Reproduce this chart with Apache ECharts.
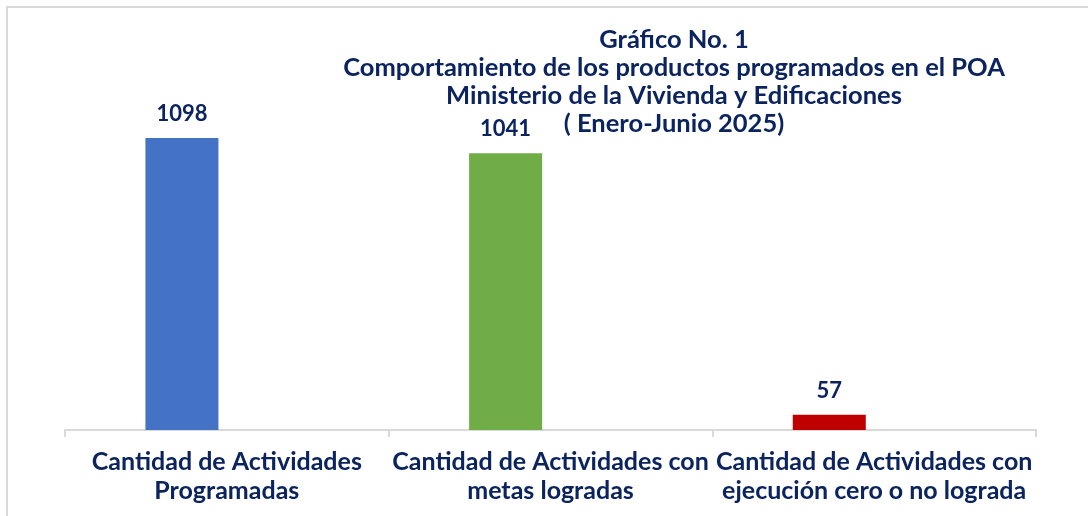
<!DOCTYPE html>
<html>
<head>
<meta charset="utf-8">
<script src="https://cdn.jsdelivr.net/npm/echarts@6/dist/echarts.min.js"></script>
<style>
  html, body { margin: 0; padding: 0; background: #fff; }
  #frame { position: absolute; left: 6px; top: 6px; width: 1100px; height: 530px; border: 2px solid #d9d9d9; }
  #main { position: absolute; left: 0; top: 0; width: 1088px; height: 516px; }
</style>
</head>
<body>
<div id="frame"></div>
<div id="main"></div>
<script>
// categories and values
const categorias = [
  'Cantidad de Actividades\nProgramadas',
  'Cantidad de Actividades con\nmetas logradas',
  'Cantidad de Actividades con\nejecución cero o no lograda'
];
const valores = [1098, 1041, 57];
const colores = ['#4472C4', '#70AD47', '#C00000'];
// the original sheet keeps an empty second series, which pushes bars left
const vacio = ['-', '-', '-'];

const navy = '#0B2460';
const fuente = 'Lato, "DejaVu Sans", sans-serif';

let myChart = echarts.init(document.getElementById('main'));
myChart.setOption({
  animation: false,
  title: {
    text: 'Gráfico No. 1\nComportamiento de los productos programados en el POA\nMinisterio de la Vivienda y Edificaciones\n( Enero-Junio 2025)',
    left: 669,
    top: 21,
    textAlign: 'center',
    textStyle: {
      color: navy,
      fontFamily: fuente,
      fontWeight: 'bold',
      fontSize: 25.5,
      lineHeight: 28
    }
  },
  grid: {
    left: 65,
    right: 52,
    top: 111,
    bottom: 86
  },
  xAxis: {
    type: 'category',
    data: categorias,
    axisLine: { lineStyle: { color: '#d9d9d9', width: 2 } },
    axisTick: { show: true, length: 7, lineStyle: { color: '#d9d9d9', width: 2 } },
    axisLabel: {
      interval: 0,
      margin: 17,
      color: navy,
      fontFamily: fuente,
      fontWeight: 'bold',
      fontSize: 25,
      lineHeight: 29,
      align: 'center'
    }
  },
  yAxis: {
    type: 'value',
    min: 0,
    max: 1200,
    show: false,
    splitLine: { show: false }
  },
  series: [{
    type: 'bar',
    data: valores.map((v, i) => ({ value: v, itemStyle: { color: colores[i] } })),
    barWidth: 73,
    barGap: '23%',
    label: {
      show: true,
      position: 'top',
      distance: 13,
      color: navy,
      fontFamily: fuente,
      fontWeight: 'bold',
      fontSize: 22
    }
  }, {
    type: 'bar',
    data: vacio,
    barWidth: 73
  }]
});
</script>
</body>
</html>
